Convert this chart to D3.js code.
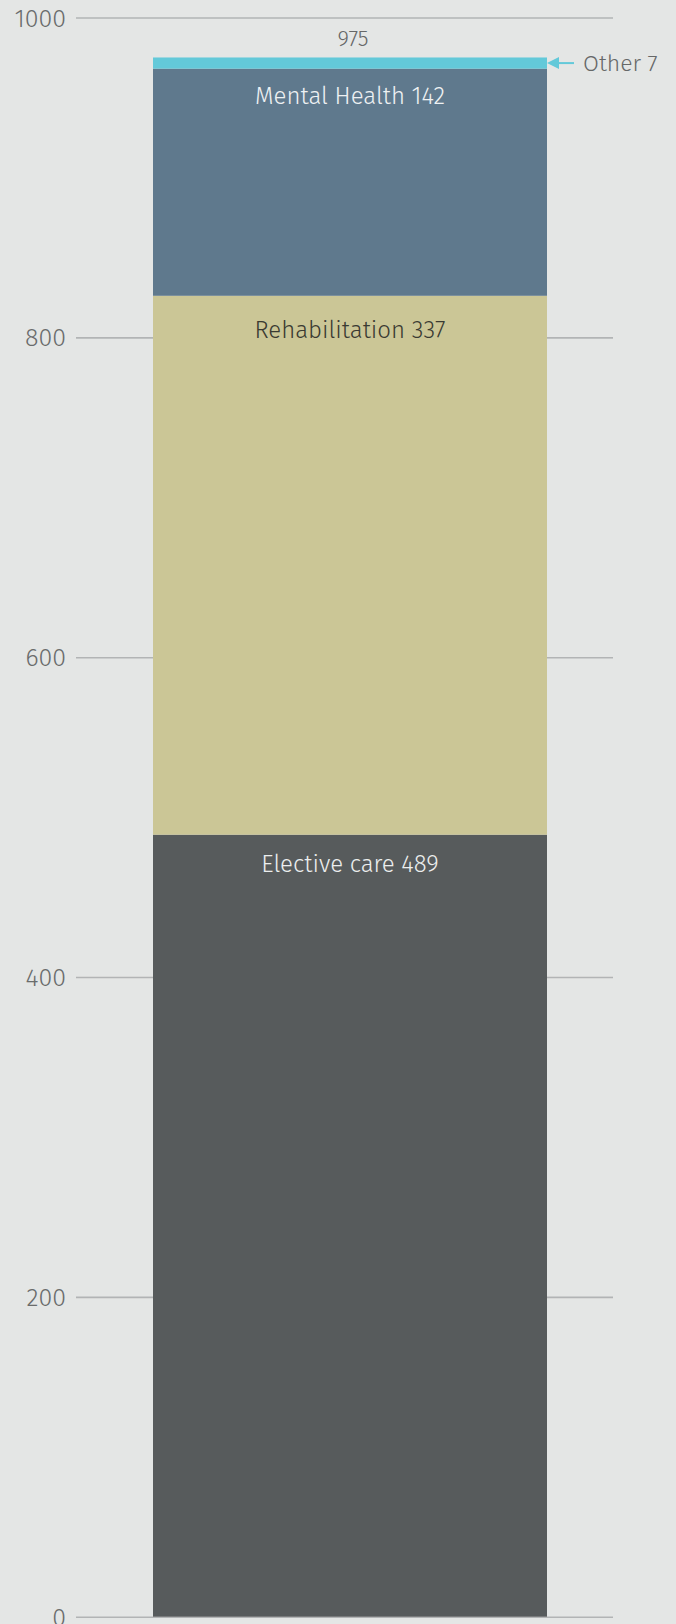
<!DOCTYPE html>
<html>
<head>
<meta charset="utf-8">
<script src="https://cdn.jsdelivr.net/npm/d3@7"></script>
<style>
  html, body { margin: 0; padding: 0; background: #e4e6e5; }
  svg { display: block; font-family: "Fira Sans", Roboto, "Open Sans", sans-serif; }
</style>
</head>
<body>
<svg id="chart" width="676" height="1624"></svg>
<script>
// Stacked segments, bottom to top
const categories = ["Elective care", "Rehabilitation", "Mental Health", "Other"];
const values = [489, 337, 142, 7];
const total = 975;
const tickValues = [0, 200, 400, 600, 800, 1000];

const colors = ["#575b5c", "#cbc696", "#5f798d", "#63c9d9"];
const labelColors = ["#eceeee", "#3a3a32", "#eef1f3", "#666868"];
const labelDy = [37.5, 42.5, 35, 0];

const svg = d3.select("#chart");

const y = d3.scaleLinear().domain([0, 1000]).range([1616.7, 17.5]);
const x = d3.scaleBand().domain(["all"]).range([153, 547]).padding(0);

// gridlines + tick labels
const axis = d3.axisLeft(y)
  .tickValues(tickValues)
  .tickSize(-(613 - 76))
  .tickPadding(10)
  .tickFormat(d3.format("d"));

const gAxis = svg.append("g")
  .attr("transform", "translate(76,0)")
  .call(axis)
  .attr("font-family", null)
  .attr("font-size", null);
gAxis.select(".domain").remove();
gAxis.selectAll(".tick line")
  .attr("stroke", "#b2b4b5")
  .attr("stroke-width", 1.6);
gAxis.selectAll(".tick text")
  .attr("fill", "#6a6c6c")
  .attr("font-size", 25)
  .attr("font-weight", 300)
  .attr("dy", "0.34em");

// stacked segments
const stacked = [];
let acc = 0;
values.forEach((v, i) => {
  stacked.push({ name: categories[i], value: v, y0: acc, y1: acc + v, i });
  acc += v;
});

const g = svg.append("g");
g.selectAll("rect")
  .data(stacked)
  .join("rect")
  .attr("x", x("all"))
  .attr("width", x.bandwidth())
  .attr("y", d => y(d.y1))
  .attr("height", d => y(d.y0) - y(d.y1))
  .attr("fill", d => colors[d.i]);

const cx = x("all") + x.bandwidth() / 2;

// in-segment labels for the three large segments
g.selectAll("text.seg")
  .data(stacked.filter(d => d.name !== "Other"))
  .join("text")
  .attr("class", "seg")
  .attr("x", cx)
  .attr("y", d => y(d.y1) + labelDy[d.i])
  .attr("text-anchor", "middle")
  .attr("font-size", 24)
  .attr("font-weight", 300)
  .attr("fill", d => labelColors[d.i])
  .text(d => `${d.name} ${d.value}`);

// total above the bar
svg.append("text")
  .attr("x", cx + 3)
  .attr("y", y(total) - 11)
  .attr("text-anchor", "middle")
  .attr("font-size", 22)
  .attr("font-weight", 300)
  .attr("fill", "#666868")
  .text(total);

// callout for the thin "Other" segment
const other = stacked[3];
const oy = (y(other.y0) + y(other.y1)) / 2;
const right = x("all") + x.bandwidth();
svg.append("line")
  .attr("x1", right + 10).attr("x2", right + 27)
  .attr("y1", oy).attr("y2", oy)
  .attr("stroke", colors[3]).attr("stroke-width", 2);
svg.append("path")
  .attr("d", `M${right},${oy} L${right + 12},${oy - 6} L${right + 12},${oy + 6} Z`)
  .attr("fill", colors[3]);
svg.append("text")
  .attr("x", right + 36)
  .attr("y", oy + 8)
  .attr("font-size", 23)
  .attr("font-weight", 300)
  .attr("fill", "#666868")
  .text(`${other.name} ${other.value}`);
</script>
</body>
</html>
